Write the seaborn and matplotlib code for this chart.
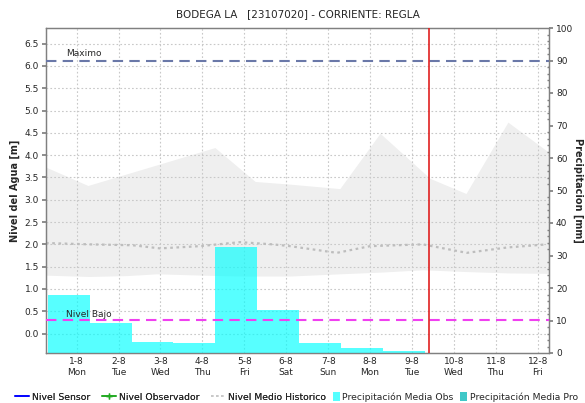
import numpy as np
import pandas as pd
import matplotlib
matplotlib.use("Agg")
import matplotlib.pyplot as plt
import matplotlib.transforms as mtransforms
from matplotlib.lines import Line2D
from matplotlib.patches import Patch
import seaborn as sns

# ---------------- data ----------------
title = "BODEGA LA   [23107020] - CORRIENTE: REGLA"
day_labels = ["1-8\nMon", "2-8\nTue", "3-8\nWed", "4-8\nThu", "5-8\nFri", "6-8\nSat",
              "7-8\nSun", "8-8\nMon", "9-8\nTue", "10-8\nWed", "11-8\nThu", "12-8\nFri"]
day_pos = list(range(12))

# daily precipitation (mm), bins starting ~07:30 each day
precip_start = [-0.69, 0.31, 1.31, 2.31, 3.31, 4.31, 5.31, 6.31, 7.31]
precip_mm = [17.8, 9.1, 3.3, 3.0, 32.6, 13.1, 3.1, 1.5, 0.7]

# historical envelope (m)
hist_upper_x = [-0.73, 0.27, 3.30, 4.26, 5.09, 6.28, 7.24, 8.43, 9.29, 10.29, 11.27]
hist_upper_y = [3.73, 3.32, 4.17, 3.41, 3.35, 3.25, 4.49, 3.48, 3.14, 4.74, 4.06]
hist_lower_x = [-0.73, 0.3, 1.2, 1.92, 3.0, 4.0, 5.09, 6.28, 7.3, 8.26, 9.31, 10.3, 11.27]
hist_lower_y = [1.31, 1.28, 1.30, 1.34, 1.31, 1.29, 1.29, 1.34, 1.38, 1.43, 1.39, 1.36, 1.35]

# historical median (m)
median_x = [-0.73, 0.32, 1.34, 1.99, 2.94, 3.90, 4.68, 5.09, 6.21, 7.0, 8.26, 9.31, 10.27, 11.22]
median_y = [2.03, 2.00, 1.98, 1.91, 1.96, 2.05, 2.00, 1.96, 1.81, 1.96, 2.00, 1.81, 1.93, 2.00]

nivel_maximo = 6.12
nivel_bajo = 0.30
now_day = 8.41

# ---------------- figure ----------------
sns.set_theme(style="white")
plt.rcParams['font.family'] = ['DejaVu Sans']

fig = plt.figure(figsize=(5.85, 4.03), dpi=100)
ax1 = fig.add_axes([46/585, 50/403, (549-46)/585, (353-28)/403])
ax2 = ax1.twinx()

xlim = (-0.73, 11.27)
ylim1 = (-0.435, 6.85)
ylim2 = (0, 100)

# historical band
xs = np.union1d(hist_upper_x, hist_lower_x)
up = np.interp(xs, hist_upper_x, hist_upper_y)
lo = np.interp(xs, hist_lower_x, hist_lower_y)
ax1.fill_between(xs, lo, up, color="#EFEFEF", lw=0, zorder=1)

med_df = pd.DataFrame({"x": median_x, "y": median_y})
sns.lineplot(data=med_df, x="x", y="y", ax=ax1, color="#BDBDBD", lw=1.6,
             linestyle=(0, (1.2, 1.6)), zorder=3)

ax1.set_xlim(*xlim)
ax1.set_ylim(*ylim1)
ax1.set_yticks(np.arange(0, 6.51, 0.5))
ax1.set_yticklabels([f"{v:.1f}" for v in np.arange(0, 6.51, 0.5)])
ax1.set_axisbelow(False)
ax1.grid(True, color="#C8C8C8", lw=0.8, linestyle=(0, (1.5, 2)))
ax1.set_xlabel("")
ax1.set_ylabel("")
ax1.tick_params(axis="both", labelsize=6.5, length=3, color="#808080", pad=2)
ax1.set_xticks(np.arange(-0.73, 11.27, 1/12), minor=True)
ax1.tick_params(axis="x", which="minor", direction="in", length=2, color="#404040", width=0.6)

# precipitation bars (right axis)
bar_df = pd.DataFrame({"x": [s + 0.5 for s in precip_start], "mm": precip_mm})
sns.barplot(data=bar_df, x="x", y="mm", native_scale=True, width=1.0, ax=ax2,
            color="#00FFFF", alpha=0.66, saturation=1, linewidth=0, zorder=2)
ax2.set_xlim(*xlim)
ax2.set_ylim(*ylim2)
ax2.set_yticks(np.arange(0, 101, 10))
ax2.set_ylabel("")
ax2.set_xlabel("")
ax2.tick_params(axis="y", labelsize=6.5, length=3, color="#808080", pad=2)
ax2.set_yticks(np.arange(0, 101, 2), minor=True)
ax2.tick_params(axis="y", which="minor", direction="in", length=1.5, color="#808080")
ax2.grid(False)
ax1.set_xticks(day_pos)
ax1.set_xticklabels(day_labels)
ax1.tick_params(axis="x", which="major", length=0, labelsize=6.5, pad=3)

# reference lines drawn in level units but above the bars
tr = mtransforms.blended_transform_factory(ax2.transAxes, ax1.transData)
ax2.plot([0, 1], [nivel_maximo, nivel_maximo], transform=tr, color="#6A78A8", lw=1.5,
         linestyle=(0, (5, 3)), zorder=5)
ax2.plot([0, 1], [nivel_bajo, nivel_bajo], transform=tr, color="#F040F0", lw=1.5,
         linestyle=(0, (5, 3)), zorder=5)
tr2 = mtransforms.blended_transform_factory(ax1.transData, ax1.transData)
ax2.text(-0.25, nivel_maximo + 0.05, "Maximo", transform=tr2, fontsize=6.5, va="bottom", zorder=6)
ax2.text(-0.25, nivel_bajo + 0.02, "Nivel Bajo", transform=tr2, fontsize=6.5, va="bottom", zorder=6)
ax2.axvline(now_day, color="#E02020", lw=1.2, zorder=6)

for ax in (ax1, ax2):
    for s in ax.spines.values():
        s.set_color("#808080")
        s.set_linewidth(0.9)

yc = 1 - 190.5/403
fig.text(297.5/585, 1 - 14/403, title, ha="center", va="center", fontsize=7.5)
fig.text(15/585, yc, "Nivel del Agua [m]", rotation=90, ha="center", va="center",
         fontsize=7, fontweight="bold")
fig.text(578/585, yc, "Precipitacion [mm]", rotation=-90, ha="center", va="center",
         fontsize=7, fontweight="bold")

# legends
line_handles = [
    Line2D([], [], color="#0000FF", lw=1.2),
    Line2D([], [], color="#22AA22", lw=1.2, marker="+", markersize=4),
    Line2D([], [], color="#C8C8C8", lw=1.2, linestyle=(0, (1.5, 1.5))),
]
line_labels = ["Nivel Sensor", "Nivel Observador", "Nivel Medio Historico"]
patch_handles = [
    Patch(facecolor="#55FFFF", edgecolor="none"),
    Patch(facecolor="#40C8C8", edgecolor="none"),
]
patch_labels = ["Precipitación Media Obs", "Precipitación Media Pro"]
ly = 1 - 397/403
leg1 = fig.legend(line_handles, line_labels, loc="center left", bbox_to_anchor=(15/585, ly),
                  ncol=3, frameon=False, fontsize=6.7, handlelength=1.5,
                  handletextpad=0.3, columnspacing=1.3, borderaxespad=0, borderpad=0)
fig.add_artist(leg1)
fig.legend(patch_handles, patch_labels, loc="center left", bbox_to_anchor=(333/585, ly),
           ncol=2, frameon=False, fontsize=6.7, handlelength=0.75, handleheight=1.0,
           handletextpad=0.25, columnspacing=0.7, borderaxespad=0, borderpad=0)

fig.savefig("out.png", dpi=100)
